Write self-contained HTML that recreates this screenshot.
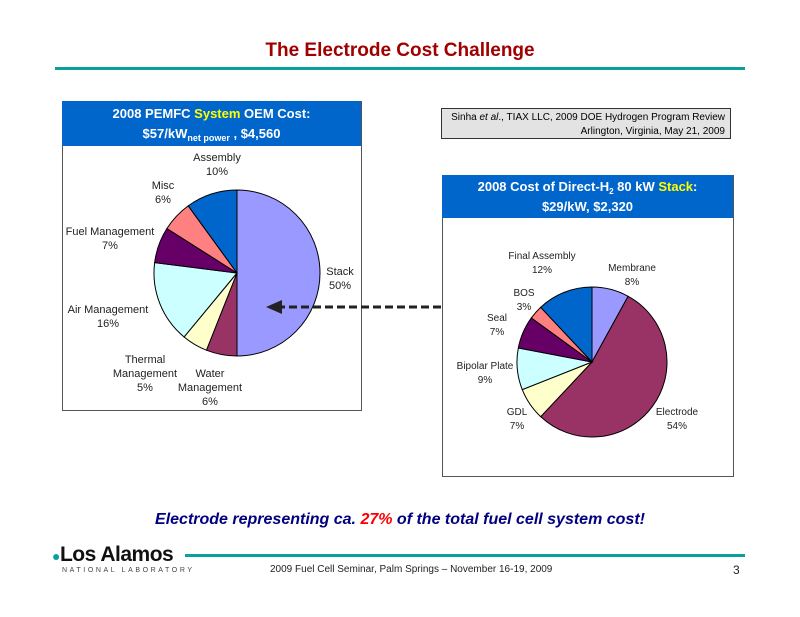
<!DOCTYPE html>
<html><head><meta charset="utf-8"><style>
body{margin:0;width:800px;height:617px;background:#fff;position:relative;font-family:"Liberation Sans",sans-serif;overflow:hidden}
.abs{position:absolute}
.hdr{background:#0066cc;color:#fff;font-weight:bold;font-size:13px;text-align:center;line-height:20px}
.hdr sub{line-height:0;vertical-align:-3px}
.lbl{position:absolute;font-size:11px;color:#222;text-align:center;line-height:14px;white-space:nowrap;transform:translateX(-50%)}
</style></head><body>
<div class="abs" style="left:0;width:800px;top:40px;text-align:center;color:#a00000;font-weight:bold;font-size:19px">The Electrode Cost Challenge</div>
<div class="abs" style="left:55px;width:690px;top:67px;height:3px;background:#0aa0a0"></div>

<div class="abs" style="left:62px;top:101px;width:298px;height:309px;border:1px solid #555;border-top:none"></div>
<div class="abs hdr" style="left:62px;top:101px;width:299px;height:45px;padding-top:3px;box-sizing:border-box">2008 PEMFC <span style="color:#ff0">System</span> OEM Cost:<br>$57/kW<sub style="font-size:9px">net power</sub> , $4,560</div>

<div class="abs" style="left:441px;top:108px;width:290px;height:31px;border:1px solid #333;background:#e3e3e3;font-size:10px;text-align:right;line-height:14px;padding:2px 5px;box-sizing:border-box">Sinha <i>et al</i>., TIAX LLC, 2009 DOE Hydrogen Program Review<br>Arlington, Virginia, May 21, 2009</div>

<div class="abs" style="left:442px;top:175px;width:290px;height:301px;border:1px solid #555;border-top:none"></div>
<div class="abs hdr" style="left:442px;top:175px;width:291px;height:43px;padding-top:2px;box-sizing:border-box">2008 Cost of Direct-H<sub style="font-size:8px">2</sub> 80 kW <span style="color:#ff0">Stack</span>:<br>$29/kW, $2,320</div>

<svg class="abs" style="left:0;top:0" width="800" height="617">
<g id="pie1"></g>
<g id="pie2"></g>
<line x1="441" y1="307" x2="280" y2="307" stroke="#222" stroke-width="3" stroke-dasharray="8,4"/>
<polygon points="266,307 282,300 282,314" fill="#222"/>
</svg>

<div class="lbl" style="left:217px;top:151px">Assembly<br>10%</div>
<div class="lbl" style="left:163px;top:179px">Misc<br>6%</div>
<div class="lbl" style="left:110px;top:225px">Fuel Management<br>7%</div>
<div class="lbl" style="left:340px;top:265px">Stack<br>50%</div>
<div class="lbl" style="left:108px;top:303px">Air Management<br>16%</div>
<div class="lbl" style="left:145px;top:353px">Thermal<br>Management<br>5%</div>
<div class="lbl" style="left:210px;top:367px">Water<br>Management<br>6%</div>

<div class="lbl" style="left:542px;top:250px;font-size:10px">Final Assembly<br>12%</div>
<div class="lbl" style="left:632px;top:262px;font-size:10px">Membrane<br>8%</div>
<div class="lbl" style="left:524px;top:287px;font-size:10px">BOS<br>3%</div>
<div class="lbl" style="left:497px;top:312px;font-size:10px">Seal<br>7%</div>
<div class="lbl" style="left:485px;top:360px;font-size:10px">Bipolar Plate<br>9%</div>
<div class="lbl" style="left:517px;top:406px;font-size:10px">GDL<br>7%</div>
<div class="lbl" style="left:677px;top:406px;font-size:10px">Electrode<br>54%</div>

<div class="abs" style="left:0;width:800px;top:511px;text-align:center;color:#000080;font-weight:bold;font-style:italic;font-size:16px">Electrode representing ca. <span style="color:#f00">27%</span> of the total fuel cell system cost!</div>
<div class="abs" style="left:185px;width:560px;top:554px;height:3px;background:#0aa0a0"></div>
<div class="abs" style="left:52px;top:543px;font-size:21px;font-weight:bold;letter-spacing:-0.5px;color:#111"><span style="color:#0aa0a0;font-size:14px">●</span>Los Alamos</div>
<div class="abs" style="left:62px;top:567px;font-size:7px;letter-spacing:2.6px;color:#444">NATIONAL LABORATORY</div>
<div class="abs" style="left:270px;top:564px;font-size:10px;color:#222">2009 Fuel Cell Seminar, Palm Springs – November 16-19, 2009</div>
<div class="abs" style="left:733px;top:563px;font-size:12px;color:#222">3</div>

<script>
const sysCategories=["Stack","Water Management","Thermal Management","Air Management","Fuel Management","Misc","Assembly"];
const sysValues=[50,6,5,16,7,6,10];
const sysColors=["#9999ff","#993366","#ffffcc","#ccffff","#660066","#ff8080","#0066cc"];
const stackCategories=["Membrane","Electrode","GDL","Bipolar Plate","Seal","BOS","Final Assembly"];
const stackValues=[8,54,7,9,7,3,12];
const stackColors=["#9999ff","#993366","#ffffcc","#ccffff","#660066","#ff8080","#0066cc"];
function drawPie(gid,cx,cy,r,cats,vals,cols){
  const g=document.getElementById(gid);
  const tot=vals.reduce((a,b)=>a+b,0);
  let a=0;
  vals.forEach((v,i)=>{
    const a0=a/tot*2*Math.PI, a1=(a+v)/tot*2*Math.PI; a+=v;
    const x0=cx+r*Math.sin(a0),y0=cy-r*Math.cos(a0),x1=cx+r*Math.sin(a1),y1=cy-r*Math.cos(a1);
    const large=(a1-a0)>Math.PI?1:0;
    const p=document.createElementNS("http://www.w3.org/2000/svg","path");
    p.setAttribute("d",`M${cx},${cy}L${x0},${y0}A${r},${r} 0 ${large} 1 ${x1},${y1}Z`);
    p.setAttribute("fill",cols[i]);p.setAttribute("stroke","#000");p.setAttribute("stroke-width","1");
    
    
    g.appendChild(p);
  });
}
drawPie("pie1",237,273,83,sysCategories,sysValues,sysColors);
drawPie("pie2",592,362,75,stackCategories,stackValues,stackColors);
</script>
</body></html>
